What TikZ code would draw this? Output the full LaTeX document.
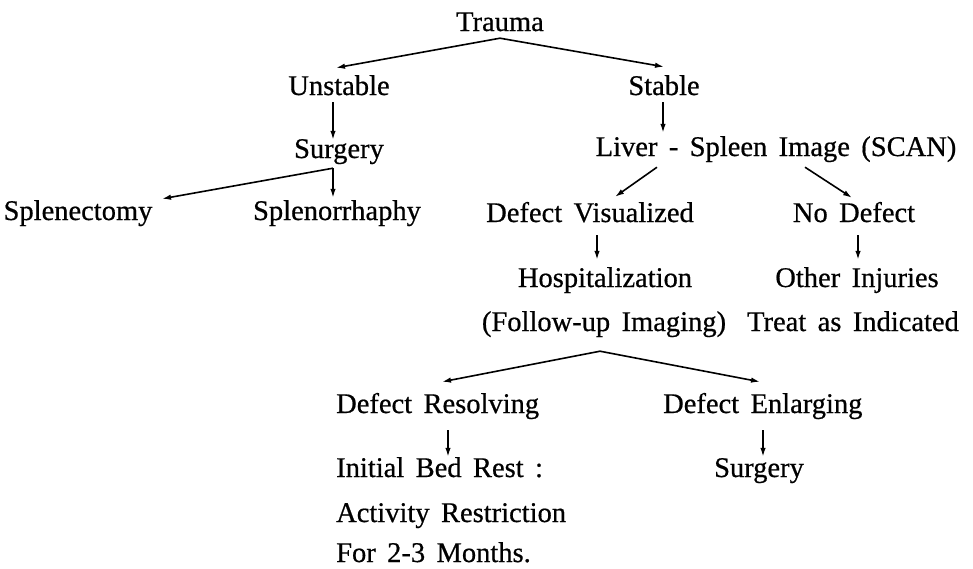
\documentclass[tikz,border=0pt]{standalone}
\usepackage{fontspec}
\setmainfont{Liberation Serif}[WordSpace={1.6}, FakeBold=0.6]
\usepackage{tikz}
\usetikzlibrary{calc}
\usetikzlibrary{arrows.meta}
\usetikzlibrary{positioning}
\tikzset{>={Latex[length=9pt,width=5.5pt]}}
\tikzstyle{lbl} = [inner sep=0pt, anchor=base, text height=20pt, text depth=7pt, font=\fontsize{28.5}{32}\selectfont]
\tikzstyle{lblw} = [lbl, anchor=base west]
\tikzstyle{arr} = [->, line width=1.6pt]

\begin{document}
\begin{tikzpicture}[x=1pt, y=-1pt]
\useasboundingbox (0,0) rectangle (973,568);
% first levels
\node [lbl] (trauma) at (500,31) {Trauma};
\node [lbl] (unstable) at (339,95) {Unstable};
\node [lbl] (stable) at (664,95) {Stable};
\node [lbl] (surgA) at (339,158) {Surgery};
\node [lbl] (splenect) at (78,220) {Splenectomy};
\node [lbl] (splenor) at (337,220) {Splenorrhaphy};
\node [lbl] (liver) at (776,156) {Liver - Spleen Image (SCAN)};
\node [lbl] (defvis) at (590,222) {Defect Visualized};
\node [lbl] (nodef) at (854,222) {No Defect};
\node [lbl] (hosp) at (605,287) {Hospitalization};
\node [lbl] (other) at (857,287) {Other Injuries};
\node [lbl] (follow) at (604,331) {(Follow-up Imaging)};
\node [lbl] (treat) at (853,331) {Treat as Indicated};
% lower levels
\node [lblw] (defres) at (336,413) {Defect Resolving};
\node [lblw] (defenl) at (663,413) {Defect Enlarging};
\node [lblw] (bedrest) at (336,477) {Initial Bed Rest :};
\node [lblw] (activ) at (336,522) {Activity Restriction};
\node [lblw] (months) at (336,562) {For 2-3 Months.};
\node [lbl] (surgB) at (759,477) {Surgery};

\draw [arr] (trauma.south) to ([xshift=-3pt, yshift=7pt]unstable.north);
\draw [arr] (trauma.south) to ([yshift=8pt]stable.north);
\draw [arr] ([xshift=-6pt]unstable.south) to ([xshift=-6pt, yshift=-2pt]surgA.north);
\draw [arr] ([xshift=-6pt, yshift=-3pt]surgA.south) to ([xshift=84pt, yshift=1pt]splenect.north);
\draw [arr] ([xshift=-6pt, yshift=-3pt]surgA.south) to ([xshift=-4pt, yshift=2pt]splenor.north);
\draw [arr] ([xshift=-1pt]stable.south) to ([xshift=-113pt, yshift=3pt]liver.north);
\draw [arr] ([xshift=-119pt, yshift=-4pt]liver.south) to ([xshift=25pt, yshift=5pt]defvis.north);
\draw [arr] ([xshift=29pt, yshift=-4pt]liver.south) to ([xshift=-2pt, yshift=4pt]nodef.north);
\draw [arr] ([xshift=7pt, yshift=-6pt]defvis.south) to ([xshift=-8pt, yshift=7pt]hosp.north);
\draw [arr] ([xshift=4pt, yshift=-6pt]nodef.south) to ([xshift=1pt, yshift=7pt]other.north);
\draw [arr] ([xshift=-4pt, yshift=-13pt]follow.south) to ([xshift=106pt, yshift=11pt]defres.north west);
\draw [arr] ([xshift=-4pt, yshift=-13pt]follow.south) to ([xshift=97pt, yshift=11pt]defenl.north west);
\draw [arr] ([xshift=112pt, yshift=-10pt]defres.south west) to ([xshift=112pt]bedrest.north west);
\draw [arr] ([xshift=100pt, yshift=-10pt]defenl.south west) to ([xshift=4pt]surgB.north);
\end{tikzpicture}
\end{document}
